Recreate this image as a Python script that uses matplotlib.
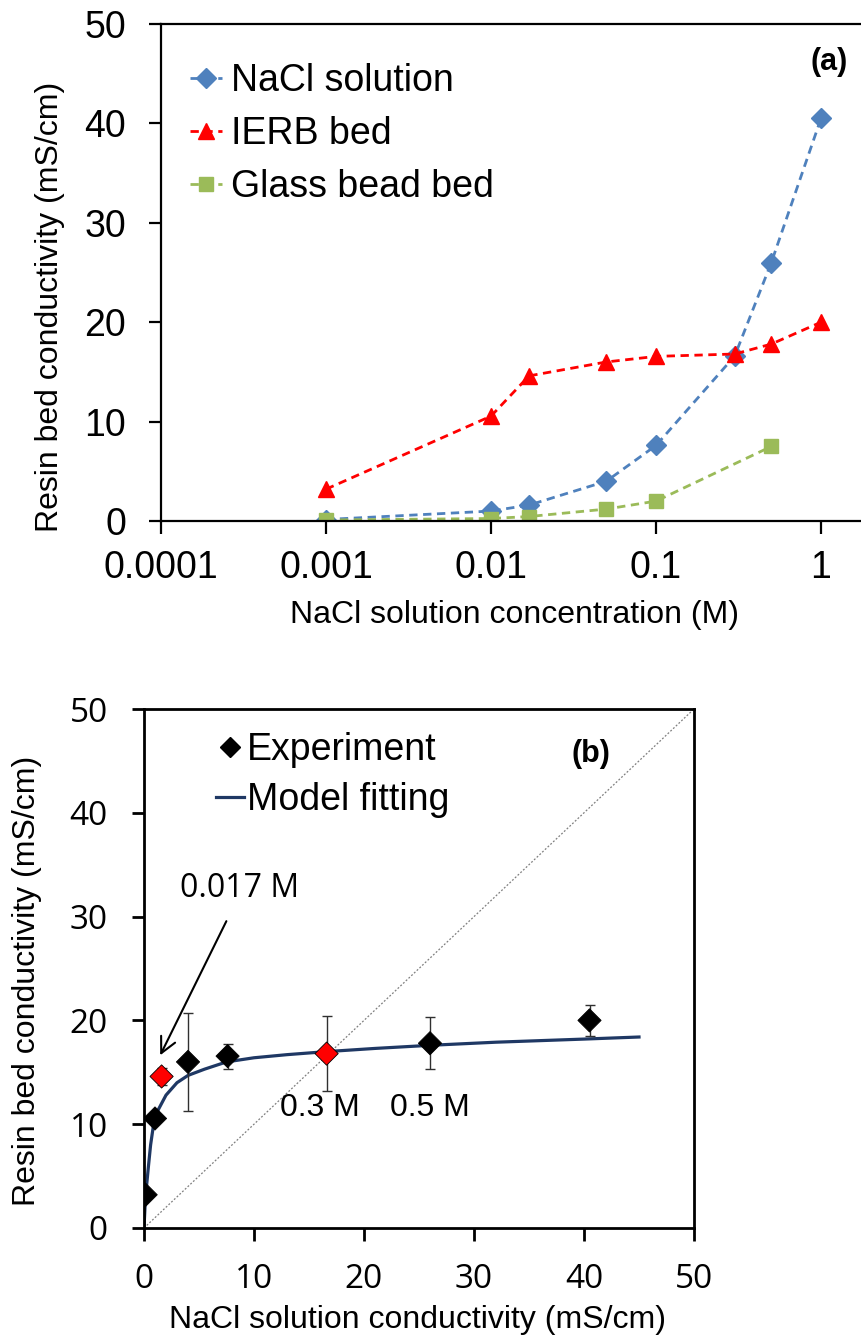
import matplotlib
matplotlib.use("Agg")
import matplotlib.pyplot as plt

# NaCl concentrations (M) used for the three bed series
CONC_ALL = [0.001, 0.01, 0.017, 0.05, 0.1, 0.3, 0.5, 1.0]
CONC_GLASS = [0.001, 0.01, 0.017, 0.05, 0.1, 0.5]

# conductivities (mS/cm)
NACL_SOLUTION = [0.15, 1.0, 1.6, 4.0, 7.6, 16.6, 26.0, 40.5]
IERB_BED = [3.2, 10.55, 14.6, 16.0, 16.56, 16.8, 17.8, 20.0]
GLASS_BED = [0.1, 0.25, 0.45, 1.2, 2.0, 7.5]

# error of the resin bed measurement (panel b)
IERB_ERR = [0.0, 0.0, 0.85, 4.7, 1.2, 3.6, 2.5, 1.5]
HIGHLIGHT = [2, 5]  # 0.017 M and 0.3 M

# fitted model curve (solution conductivity -> bed conductivity)
FIT_X = [0, 0.1, 0.2, 0.4, 0.6, 0.9, 1.3, 2.0, 3.0, 4.0, 5.5, 7.5, 10, 13,
         16.7, 21, 26, 32, 40, 45]
FIT_Y = [0, 2.2, 3.7, 5.9, 8.0, 10.2, 11.4, 12.8, 14.0, 14.7, 15.3, 16.0,
         16.4, 16.7, 17.0, 17.3, 17.6, 17.9, 18.2, 18.4]

X_TICKS_A = [1e-4, 1e-3, 1e-2, 1e-1, 1]
X_TICKLABELS_A = ["0.0001", "0.001", "0.01", "0.1", "1"]
TICKS_B = [0, 10, 20, 30, 40, 50]

BLUE = "#4F81BD"
RED = "#FF0000"
GREEN = "#9BBB59"
NAVY = "#1F3864"

plt.rcParams["font.family"] = ["Liberation Sans", "DejaVu Sans"]

W, H = 861, 1341
fig = plt.figure(figsize=(W / 100, H / 100), dpi=100)
fig.patch.set_facecolor("white")


def style_axis(ax, lw):
    for side in ["left", "bottom", "top", "right"]:
        ax.spines[side].set_linewidth(lw)
        ax.spines[side].set_color("black")
    ax.tick_params(direction="out", length=9, width=lw, color="black")


# ---------- panel (a) ----------
ax1 = fig.add_axes([161 / W, 1 - 521 / H, 825 / W, 497 / H])
dash = (0, (3, 2))
ax1.plot(CONC_ALL, NACL_SOLUTION, color=BLUE, ls=dash, lw=2.0, marker="D",
         ms=10, label="NaCl solution")
ax1.plot(CONC_ALL, IERB_BED, color=RED, ls=dash, lw=2.0, marker="^",
         ms=12, label="IERB bed")
ax1.plot(CONC_GLASS, GLASS_BED, color=GREEN, ls=dash, lw=2.0, marker="s",
         ms=10.5, label="Glass bead bed")

ax1.set_xscale("log")
ax1.set_xlim(1e-4, 10)
ax1.set_ylim(0, 50)
ax1.set_xticks(X_TICKS_A)
ax1.set_xticklabels(X_TICKLABELS_A)
ax1.xaxis.set_minor_locator(matplotlib.ticker.NullLocator())
ax1.set_yticks([0, 10, 20, 30, 40, 50])
style_axis(ax1, 1.6)
ax1.spines["right"].set_visible(False)
ax1.tick_params(axis="x", labelsize=27, pad=12)
ax1.tick_params(axis="y", labelsize=27, pad=16)
ax1.set_xlabel("NaCl solution concentration (M)", fontsize=23)
ax1.set_ylabel("Resin bed conductivity (mS/cm)", fontsize=23)
ax1.xaxis.set_label_coords(0.429, -0.159)
ax1.yaxis.set_label_coords(-0.116, 0.43)
ax1.text(0.81, 0.924, "(a)", transform=ax1.transAxes, fontsize=22,
         fontweight="bold", ha="center", va="center")
ax1.legend(loc="upper left", bbox_to_anchor=(0.035, 0.922), frameon=False,
           fontsize=27, handlelength=0.85, handletextpad=0.25,
           labelspacing=0.46, borderpad=0, borderaxespad=0)

# ---------- panel (b) ----------
ax2 = fig.add_axes([144 / W, 1 - 1228 / H, 550 / W, 519 / H])
ax2.plot([0, 50], [0, 50], color="#7f7f7f", lw=0.9, ls=(0, (1.5, 1.5)),
         zorder=1)
ax2.plot(FIT_X, FIT_Y, color=NAVY, lw=2.3, label="Model fitting", zorder=2)
ax2.errorbar(NACL_SOLUTION, IERB_BED, yerr=IERB_ERR, fmt="none",
             ecolor="#303030", elinewidth=1, capsize=3.5, capthick=1,
             zorder=3)
face = [RED if i in HIGHLIGHT else "black" for i in range(len(IERB_BED))]
ax2.scatter(NACL_SOLUTION, IERB_BED, marker="D", s=140, c=face,
            edgecolors="black", linewidths=0.6, zorder=4)
ax2.plot([], [], ls="none", marker="D", ms=10, color="black",
         label="Experiment")

ax2.set_xlim(0, 50)
ax2.set_ylim(0, 50)
ax2.set_xticks(TICKS_B)
ax2.set_yticks(TICKS_B)
style_axis(ax2, 2.0)
for lab in ax2.get_xticklabels() + ax2.get_yticklabels():
    lab.set_family(["Open Sans", "DejaVu Sans"])
ax2.tick_params(axis="x", labelsize=24, pad=16)
ax2.tick_params(axis="y", labelsize=24, pad=17)
ax2.set_xlabel("NaCl solution conductivity (mS/cm)", fontsize=23)
ax2.set_ylabel("Resin bed conductivity (mS/cm)", fontsize=23)
ax2.xaxis.set_label_coords(0.498, -0.148)
ax2.yaxis.set_label_coords(-0.185, 0.476)

handles, labels = ax2.get_legend_handles_labels()
order = [labels.index("Experiment"), labels.index("Model fitting")]
ax2.legend([handles[i] for i in order], [labels[i] for i in order],
           loc="upper left", bbox_to_anchor=(0.13, 0.956), frameon=False,
           fontsize=27, handlelength=0.75, handletextpad=0.1,
           labelspacing=0.39, borderpad=0, borderaxespad=0)

ax2.text(40.6, 45.7, "(b)", fontsize=22, fontweight="bold",
         ha="center", va="center")
ax2.annotate("", xy=(1.36, 16.4), xytext=(7.6, 29.8),
             arrowprops=dict(arrowstyle="->", lw=1.5, color="black",
                             mutation_scale=28))
ax2.text(8.7, 32.7, "0.017 M", fontsize=23, ha="center", va="center",
         family=["Open Sans", "DejaVu Sans"])
ax2.text(16.0, 11.6, "0.3 M", fontsize=23, ha="center", va="center")
ax2.text(26.0, 11.6, "0.5 M", fontsize=23, ha="center", va="center")

fig.savefig("out.png", dpi=100, facecolor="white")
